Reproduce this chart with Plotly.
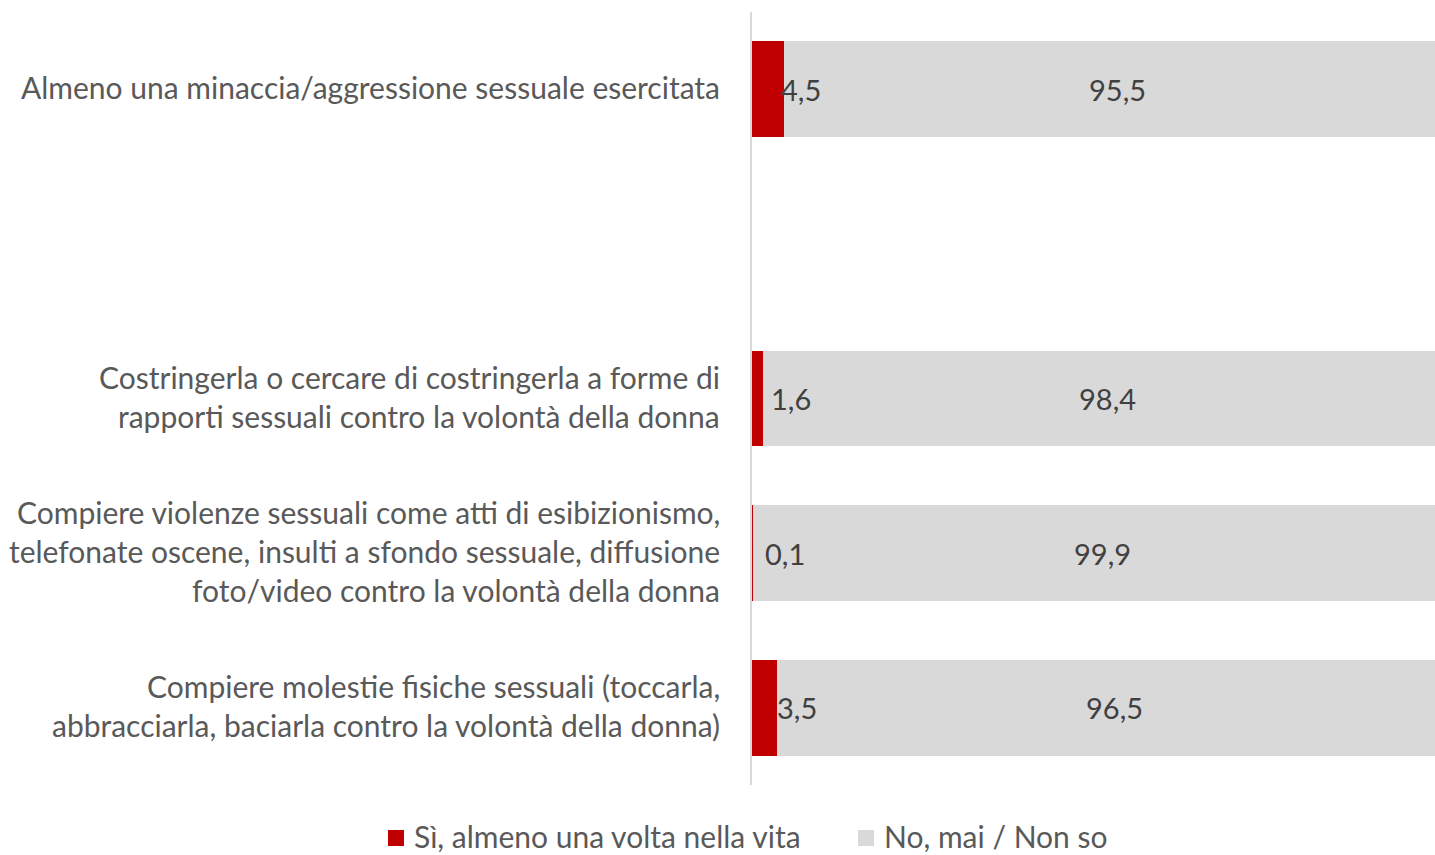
import plotly.graph_objects as go

categories = [
    "Almeno una minaccia/aggressione sessuale esercitata",
    " ",
    "Costringerla o cercare di costringerla a forme di<br>rapporti sessuali contro la volontà della donna",
    "Compiere violenze sessuali come atti di esibizionismo,<br>telefonate oscene, insulti a sfondo sessuale, diffusione<br>foto/video contro la volontà della donna",
    "Compiere molestie fisiche sessuali (toccarla,<br>abbracciarla, baciarla contro la volontà della donna)",
]
si_values = [4.5, None, 1.6, 0.1, 3.5]
no_values = [95.5, None, 98.4, 99.9, 96.5]
series_names = ["Sì, almeno una volta nella vita", "No, mai / Non so"]

RED = "#C00000"
GRAY = "#D9D9D9"
FONT = "Lato"
FS = 30

W, H = 1435, 855
ML, MT, MB = 752, 12, 70
PW, PH = W - ML, H - MT - MB

fig = go.Figure()
fig.add_trace(go.Bar(y=categories, x=si_values, orientation="h", name=series_names[0],
                     marker=dict(color=RED, line=dict(width=0)), hoverinfo="skip"))
fig.add_trace(go.Bar(y=categories, x=no_values, orientation="h", name=series_names[1],
                     marker=dict(color=GRAY, line=dict(width=0)), hoverinfo="skip"))

def fmt(v):
    return f"{v:.1f}".replace(".", ",")

def px_x(px):
    return (px - ML) / PW

def px_y(py):
    return (H - MB - py) / PH

annotations = []
for cat, s, n in zip(categories, si_values, no_values):
    if s is None:
        continue
    annotations.append(dict(x=s / 2, y=cat, xref="x", yref="y", text=fmt(s), showarrow=False,
                            xshift=33, yshift=0, font=dict(family=FONT, size=FS - 1, color="#404040")))
    annotations.append(dict(x=s + n / 2, y=cat, xref="x", yref="y", text=fmt(n), showarrow=False,
                            xshift=0, yshift=0, font=dict(family=FONT, size=FS - 1, color="#404040")))
    lines = cat.split("<br>")
    k = len(lines)
    for i, line in enumerate(lines):
        off = (i - (k - 1) / 2) * 39
        annotations.append(dict(x=0, y=cat, xref="paper", yref="y", text=line, showarrow=False,
                                xanchor="right", xshift=-30, yshift=2 - off,
                                font=dict(family=FONT, size=FS, color="#595959")))

# custom legend (swatch + label) placed below the plot
legend_items = [(series_names[0], RED, 388), (series_names[1], GRAY, 858)]
shapes = []
for name, color, sx in legend_items:
    shapes.append(dict(type="rect", xref="paper", yref="paper",
                       x0=px_x(sx), x1=px_x(sx + 16), y0=px_y(846), y1=px_y(830),
                       fillcolor=color, line=dict(width=0)))
    annotations.append(dict(x=px_x(sx + 24), y=px_y(836), xref="paper", yref="paper", text=name,
                            showarrow=False, xanchor="left", yanchor="middle",
                            font=dict(family=FONT, size=FS, color="#595959")))

fig.update_layout(
    barmode="stack",
    bargap=0.38,
    width=W, height=H,
    margin=dict(l=ML, r=0, t=MT, b=MB, autoexpand=False),
    paper_bgcolor="white", plot_bgcolor="white",
    font=dict(family=FONT, size=FS, color="#595959"),
    xaxis=dict(range=[0, PW / 7], showgrid=False, zeroline=False, showticklabels=False, showline=False),
    yaxis=dict(autorange="reversed", showticklabels=False, showgrid=False, zeroline=False,
               showline=True, linecolor=GRAY, linewidth=2, categoryorder="array", categoryarray=categories),
    annotations=annotations,
    shapes=shapes,
    showlegend=False,
)

fig.write_html("out.html", config={"displayModeBar": False},
               post_script="document.body.style.margin='0';document.body.style.overflow='hidden';")
